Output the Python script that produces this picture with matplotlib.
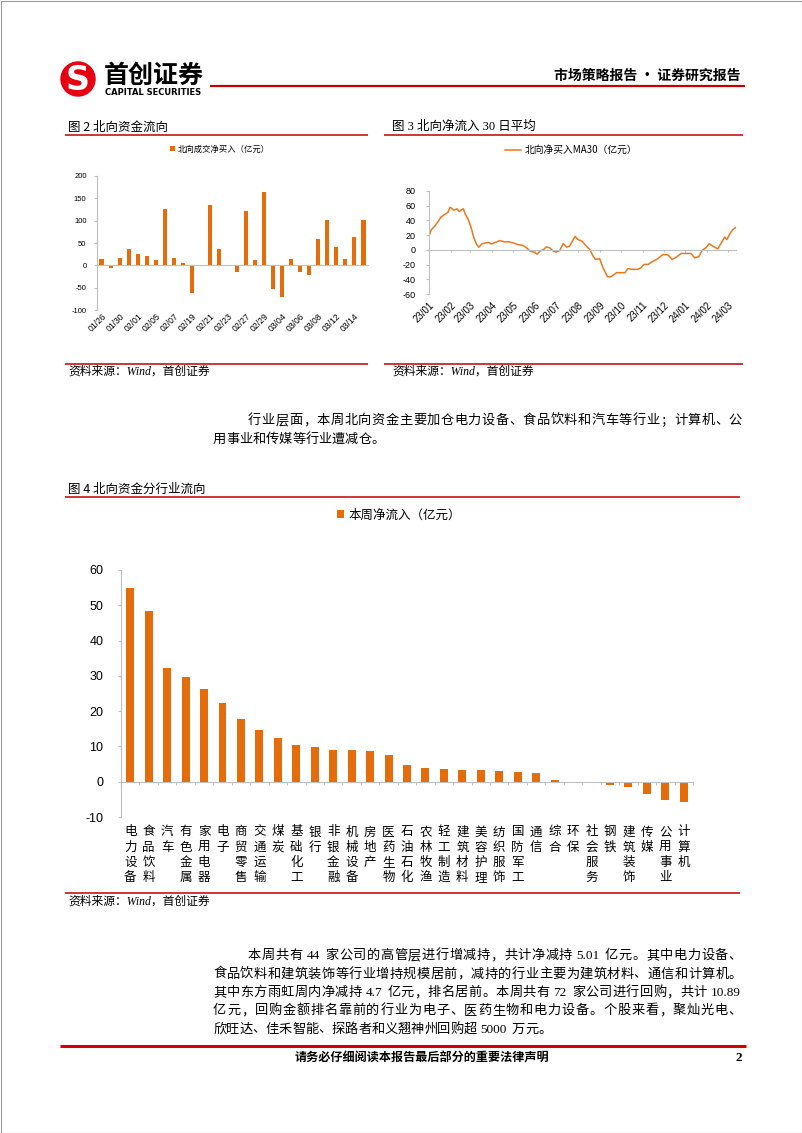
import re
import numpy as np
import pandas as pd
import matplotlib
matplotlib.use('Agg')
import matplotlib.pyplot as plt
import matplotlib.dates as mdates
from matplotlib.patches import Circle, Rectangle
from matplotlib.transforms import blended_transform_factory

# ---- data ----
flow_days = ['01/26', '01/29', '01/30', '01/31', '02/01', '02/02', '02/05', '02/06', '02/07', '02/08',
             '02/19', '02/20', '02/21', '02/22', '02/23', '02/26', '02/27', '02/28', '02/29', '03/01',
             '03/04', '03/05', '03/06', '03/07', '03/08', '03/11', '03/12', '03/13', '03/14', '03/15']
flow_net = [14, -6, 16, 37, 26, 22, 11, 126, 16, 5,
            -63, -1, 136, 36, 1, -14, 121, 12, 165, -53,
            -71, 15, -16, -22, 58, 102, 41, 14, 64, 102]

ma_dates = ['2023-01-03', '2023-01-06', '2023-01-11', '2023-01-16', '2023-01-20', '2023-01-26', '2023-01-30',
            '2023-02-02', '2023-02-04', '2023-02-07', '2023-02-12', '2023-02-15', '2023-02-19', '2023-02-21',
            '2023-02-23', '2023-02-28',
            '2023-03-04', '2023-03-08', '2023-03-12', '2023-03-15', '2023-03-19', '2023-03-24', '2023-03-29',
            '2023-04-02', '2023-04-07', '2023-04-14', '2023-04-21', '2023-04-26',
            '2023-05-03', '2023-05-10', '2023-05-17', '2023-05-22', '2023-05-27',
            '2023-06-01', '2023-06-06', '2023-06-10', '2023-06-15', '2023-06-19', '2023-06-24', '2023-06-29',
            '2023-07-03', '2023-07-08', '2023-07-13', '2023-07-18', '2023-07-22', '2023-07-26', '2023-07-30',
            '2023-08-03', '2023-08-09', '2023-08-15', '2023-08-20', '2023-08-24', '2023-08-28',
            '2023-09-03', '2023-09-07', '2023-09-10', '2023-09-14', '2023-09-18', '2023-09-22', '2023-09-27',
            '2023-10-04', '2023-10-09', '2023-10-13', '2023-10-20', '2023-10-27',
            '2023-11-01', '2023-11-05', '2023-11-11', '2023-11-16', '2023-11-23', '2023-11-28',
            '2023-12-02', '2023-12-09', '2023-12-15', '2023-12-21', '2023-12-28',
            '2024-01-04', '2024-01-11', '2024-01-16', '2024-01-22', '2024-01-27',
            '2024-02-01', '2024-02-06', '2024-02-11', '2024-02-18', '2024-02-23', '2024-02-28',
            '2024-03-02', '2024-03-07', '2024-03-11', '2024-03-15']
ma30 = [18.4, 27, 32, 38.6, 44.5, 48.5, 51,
        58, 56.6, 54, 55.7, 52, 55, 55.7, 50, 41,
        30, 16, 7, 3.6, 8, 9.4, 10,
        8, 10, 12.6, 10.8, 11,
        9.4, 7, 6, 2.7, -1.8,
        -3, -5.8, -1.8, 0.4, 4, 2.7, -1.8,
        -3, -1, 8.5, 3.6, 5, 11.7, 18.4,
        14, 11.7, 5, 0.4, -7.6, -13,
        -12, -23, -28.8, -36.4, -36.9, -34.6, -31,
        -31, -31, -25.6, -26.5, -26.5,
        -24.3, -19.8, -19.8, -16.6, -13, -9.4,
        -6.3, -6.7, -13, -9.9, -4.9,
        -4.9, -4.9, -10.8, -9.4, -0.4,
        2.7, 8.5, 5, 1.3, 9.4, 17.5,
        14, 23, 28, 30.6]

industries = ['电力设备', '食品饮料', '汽车', '有色金属', '家用电器', '电子', '商贸零售', '交通运输',
              '煤炭', '基础化工', '银行', '非银金融', '机械设备', '房地产', '医药生物', '石油石化',
              '农林牧渔', '轻工制造', '建筑材料', '美容护理', '纺织服饰', '国防军工', '通信', '综合',
              '环保', '社会服务', '钢铁', '建筑装饰', '传媒', '公用事业', '计算机']
ind_inflow = [54.8, 48.4, 32.2, 29.7, 26.4, 22.3, 17.9, 14.6,
              12.4, 10.4, 9.9, 9.1, 9.1, 8.8, 7.6, 4.7,
              3.8, 3.7, 3.4, 3.3, 3.1, 2.8, 2.5, 0.6,
              -0.1, -0.5, -0.9, -1.4, -3.4, -5.3, -5.8]

para1 = ['行业层面，本周北向资金主要加仓电力设备、食品饮料和汽车等行业；计算机、公',
         '用事业和传媒等行业遭减仓。']
para2 = ['本周共有 44 家公司的高管层进行增减持，共计净减持 5.01 亿元。其中电力设备、',
         '食品饮料和建筑装饰等行业增持规模居前，减持的行业主要为建筑材料、通信和计算机。',
         '其中东方雨虹周内净减持 4.7 亿元，排名居前。本周共有 72 家公司进行回购，共计 10.89',
         '亿元，回购金额排名靠前的行业为电子、医药生物和电力设备。个股来看，聚灿光电、',
         '欣旺达、佳禾智能、探路者和义翘神州回购超 5000 万元。']

# ---- page setup ----
W, H = 802, 1133
CJK = 'Noto Sans CJK SC'
SANS = ['Liberation Sans', CJK]
SERIF = ['Liberation Serif', CJK]
RED = '#C00000'
ORANGE = '#E46C0A'
AXC = '#BFBFBF'

plt.rcParams['font.family'] = SANS
plt.rcParams['axes.unicode_minus'] = False

fig = plt.figure(figsize=(W / 100, H / 100), dpi=100)
page = fig.add_axes([0, 0, 1, 1])
page.set_xlim(0, W)
page.set_ylim(H, 0)
page.axis('off')


def box(l, t, r, b):
    # axes placed by pixel edges on the page
    ax = fig.add_axes([l / W, 1 - b / H, (r - l) / W, (b - t) / H])
    ax.set_facecolor('none')
    return ax


def hline(y, x0, x1, lw, color=RED):
    page.plot([x0, x1], [y, y], color=color, lw=lw, solid_capstyle='butt')


def style(ax, fs_y, ypad, xpad_px, xlen=0):
    for s in ['top', 'right']:
        ax.spines[s].set_visible(False)
    ax.spines['left'].set_color(AXC)
    ax.spines['bottom'].set_color(AXC)
    ax.spines['bottom'].set_position(('data', 0))
    ax.tick_params(axis='y', length=2, color=AXC, labelsize=fs_y, pad=ypad)
    ymin, ymax = ax.get_ylim()
    gap = (0 - ymin) / (ymax - ymin) * ax.get_position().height * H
    ax.tick_params(axis='x', length=xlen * 0.72, color=AXC,
                   pad=(gap + xpad_px - xlen) * 0.72)


# border and header
page.add_patch(Rectangle((0.5, 0.5), W - 1, H - 1, fill=False, ec='#9a9a9a', lw=0.8))
page.add_patch(Circle((78, 79), 17, color='#E60012'))
page.text(78, 80, 'S', color='white', fontsize=24, fontweight='bold', family='DejaVu Sans',
          ha='center', va='center')
page.text(104, 76, '首创证券', family=CJK, fontsize=18, fontweight='bold', va='center')
page.text(105, 92.5, 'CAPITAL SECURITIES', family='DejaVu Sans', fontsize=6, fontweight='bold',
          va='center')
hline(86, 210, 745, 1.6)
page.text(741, 76, '市场策略报告 · 证券研究报告', family=CJK, fontsize=10, fontweight='bold',
          ha='right', va='center')

# section titles / sources
page.text(68, 127, '图 2 北向资金流向', family=CJK, fontsize=9, va='center')
page.text(392, 127, '图 3 北向净流入 30 日平均', family=SERIF, fontsize=9, va='center')
hline(134.5, 65, 368, 1.1)
hline(134.5, 384, 743, 1.1)
hline(363.5, 65, 368, 1.1)
hline(363.5, 384, 743, 1.1)
page.text(68, 372, '资料来源：Wind，首创证券', family=SERIF, fontsize=8.5, style='italic', va='center')
page.text(392, 372, '资料来源：Wind，首创证券', family=SERIF, fontsize=8.5, style='italic', va='center')

page.text(68, 489, '图 4 北向资金分行业流向', family=CJK, fontsize=9, va='center')
hline(497, 65, 740, 1.1)
hline(893, 65, 740, 1.1)
page.text(68, 902, '资料来源：Wind，首创证券', family=SERIF, fontsize=8.5, style='italic', va='center')

# ---- figure 2: daily northbound net buy ----
ax2 = box(97, 176, 368, 310)
x2 = np.arange(len(flow_net))
ax2.bar(x2, flow_net, width=0.45, color=ORANGE, label='北向成交净买入（亿元）')
ax2.set_xlim(-0.5, len(flow_net) - 0.5)
ax2.set_ylim(-100, 200)
ax2.set_yticks(range(-100, 201, 50))
ax2.set_xticks(x2[::2])
ax2.set_xticklabels(flow_days[::2])
style(ax2, 5.5, 5.5, 2)
plt.setp(ax2.get_xticklabels(), rotation=45, ha='right', va='top', rotation_mode='anchor', fontsize=6.2)
ax2.legend(loc='center', bbox_to_anchor=(220 / W, 1 - 149 / H), bbox_transform=fig.transFigure,
           frameon=False, prop={'family': CJK, 'size': 6}, handlelength=0.6, handleheight=0.6,
           handletextpad=0.3, borderpad=0, borderaxespad=0)

# ---- figure 3: MA30 ----
ax3 = box(429, 191, 736, 294)
ax3.plot(pd.to_datetime(ma_dates), ma30, color='#E8781E', lw=1.1, label='北向净买入MA30（亿元）')
ax3.set_xlim(pd.Timestamp('2023-01-03'), pd.Timestamp('2024-03-15'))
ax3.set_ylim(-60, 80)
ax3.set_yticks(range(-60, 81, 20))
ax3.set_xticks(pd.date_range('2023-01-03', '2024-03-03', freq=pd.DateOffset(months=1)))
ax3.xaxis.set_major_formatter(mdates.DateFormatter('%y/%m'))
style(ax3, 6.5, 7.5, 6, xlen=2.5)
plt.setp(ax3.get_xticklabels(), rotation=45, ha='right', va='top', rotation_mode='anchor', fontsize=7)
ax3.legend(loc='center', bbox_to_anchor=(571 / W, 1 - 150 / H), bbox_transform=fig.transFigure,
           frameon=False, prop={'family': CJK, 'size': 7}, handlelength=1.6, handletextpad=0.4,
           borderpad=0, borderaxespad=0)

# ---- figure 4: by industry ----
ax4 = box(121, 570, 693, 817)
x4 = np.arange(len(ind_inflow))
ax4.bar(x4, ind_inflow, width=0.43, color=ORANGE, label='本周净流入（亿元）')
ax4.set_xlim(-0.5, len(ind_inflow) - 0.5)
ax4.set_ylim(-10, 60)
ax4.set_yticks(range(-10, 61, 10))
ax4.set_xticks(np.arange(-0.5, len(ind_inflow), 1))
ax4.set_xticklabels([])
for s in ['top', 'right']:
    ax4.spines[s].set_visible(False)
ax4.spines['left'].set_color(AXC)
ax4.spines['bottom'].set_color(AXC)
ax4.spines['bottom'].set_position(('data', 0))
ax4.tick_params(axis='y', length=2.2, color=AXC, labelsize=9, pad=10.5)
ax4.tick_params(axis='x', length=2.2, color=AXC)
ax4.legend(loc='center', bbox_to_anchor=(399 / W, 1 - 515 / H), bbox_transform=fig.transFigure,
           frameon=False, prop={'family': CJK, 'size': 9}, handlelength=0.55, handleheight=0.55,
           handletextpad=0.4, borderpad=0, borderaxespad=0)

# vertical category names under the bars
tr = blended_transform_factory(ax4.transData, page.transData)
for i, name in enumerate(industries):
    for k, ch in enumerate(name):
        page.text(x4[i], 832 + k * 15.2, ch, transform=tr, ha='center', va='center',
                  family=CJK, fontsize=9)

# ---- body text ----
BODY_PT = 9.5
BODY_PX = BODY_PT * 100 / 72
renderer = fig.canvas.get_renderer()


def ascii_width(s):
    t = page.text(0, 0, s, family=SERIF, fontsize=BODY_PT)
    w = t.get_window_extent(renderer).width
    t.remove()
    return w


def body_line(s, x0, x1, y, justify=True):
    toks = re.findall(r'[0-9A-Za-z.]+|\S', s)
    widths = [ascii_width(t) + 1.5 if t.isascii() else BODY_PX for t in toks]
    gaps = [3.5 if (a.isascii() != b.isascii()) else 0 for a, b in zip(toks, toks[1:])]
    natural = sum(widths) + sum(gaps)
    extra = (x1 - x0 - natural) / max(len(toks) - 1, 1) if justify else 0
    x = x0
    base = y + 0.38 * BODY_PX
    for i, t in enumerate(toks):
        page.text(x, base, t, family=SERIF, fontsize=BODY_PT, ha='left', va='baseline')
        if i < len(gaps):
            x += widths[i] + gaps[i] + extra


body_line(para1[0], 248, 742, 419)
body_line(para1[1], 213, 742, 438, justify=False)

ys = [954, 972.5, 991, 1009, 1027.5]
for j, line in enumerate(para2):
    body_line(line, 248 if j == 0 else 213, 742, ys[j], justify=(j < len(para2) - 1))

# ---- footer ----
hline(1046, 60, 746, 2.2, color='#D40000')
page.text(422, 1058, '请务必仔细阅读本报告最后部分的重要法律声明', family=CJK, fontsize=8.7,
          fontweight='bold', ha='center', va='center')
page.text(742, 1058, '2', family=SERIF, fontsize=9.5, fontweight='bold', ha='right', va='center')

fig.savefig('out.png', dpi=100)
